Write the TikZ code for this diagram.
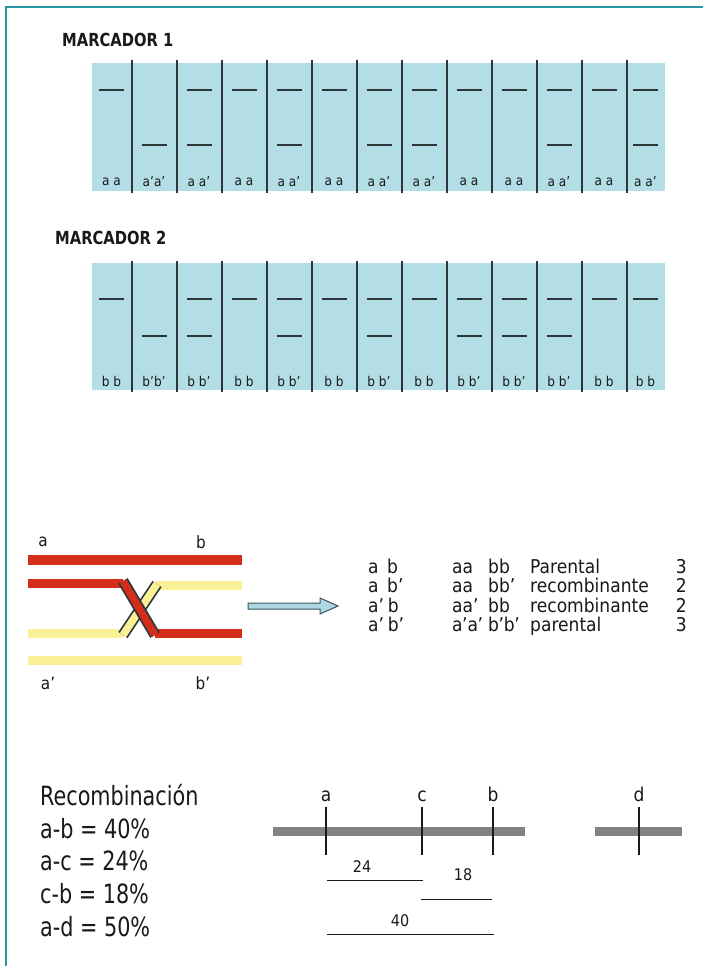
\documentclass[tikz,border=0pt]{standalone}
\usepackage{fontspec}
\setmainfont{DejaVu Sans Condensed}
\usetikzlibrary{calc}

\definecolor{frameteal}{RGB}{40,150,165}
\definecolor{gelblue}{RGB}{180,222,230}
\definecolor{geldark}{RGB}{45,55,58}
\definecolor{chrred}{RGB}{212,45,28}
\definecolor{chryellow}{RGB}{250,240,150}
\definecolor{arrowfill}{RGB}{175,215,225}
\definecolor{arrowline}{RGB}{60,85,95}
\definecolor{mapgray}{RGB}{130,130,130}
\definecolor{txt}{RGB}{25,25,25}

\tikzset{
  frame/.style={draw=frameteal, line width=2pt},
  gel/.style={fill=gelblue},
  divider/.style={draw=geldark, line width=1.6pt},
  band/.style={draw=geldark, line width=1.6pt},
  lanelabel/.style={font=\fontsize{13.5}{15}\selectfont, text=txt, inner sep=0pt},
  gtitle/.style={font=\bfseries\fontsize{18}{21}\selectfont, text=txt, inner sep=0pt, anchor=west},
  redbar/.style={draw=chrred, line width=9pt},
  yelbar/.style={draw=chryellow, line width=9pt},
  chrlabel/.style={font=\fontsize{17}{20}\selectfont, text=txt, inner sep=0pt},
  tbl/.style={font=\fontsize{19}{22}\selectfont, text=txt, inner sep=0pt, anchor=base west},
  tblnum/.style={font=\fontsize{19}{22}\selectfont, text=txt, inner sep=0pt, anchor=base east},
  recomb/.style={font=\fontsize{26.5}{30}\selectfont, text=txt, inner sep=0pt, anchor=base west},
  chrom/.style={draw=mapgray, line width=9pt},
  locus/.style={draw=txt, line width=1.2pt},
  locuslabel/.style={font=\fontsize{19}{22}\selectfont, text=txt, inner sep=0pt, anchor=base},
  dist/.style={draw=txt, line width=1pt},
  distlabel/.style={font=\fontsize{16}{19}\selectfont, text=txt, inner sep=0pt},
}
% narrower setting for the headings
\newcommand{\narrow}[2]{\scalebox{#1}[1]{#2}}

\begin{document}
\begin{tikzpicture}[x=1pt,y=-1pt]
\useasboundingbox (0,0) rectangle (703,966);
\fill[white] (0,0) rectangle (703,966);

% page frame (top and left edges)
\coordinate (fbl) at (6,966);
\coordinate (ftl) at (6,7);
\coordinate (ftr) at (703,7);
\draw[frame] (fbl) -- (ftl) -- (ftr);

% ---------- gel for marker 1 ----------
\node[gtitle] (t1) at (62,40) {\narrow{0.91}{MARCADOR 1}};
\fill[gel] (92,63) rectangle (665,191);
\foreach \x in {132,177,222,267,312,357,402,447,492,537,582,627}
  \draw[divider] (\x,60) -- (\x,193);
\foreach \l/\r/\lab/\up/\lo in {
  92/132/a a/1/0, 132/177/a'a'/0/1, 177/222/a a'/1/1, 222/267/a a/1/0,
  267/312/a a'/1/1, 312/357/a a/1/0, 357/402/a a'/1/1, 402/447/a a'/1/1,
  447/492/a a/1/0, 492/537/a a/1/0, 537/582/a a'/1/1, 582/627/a a/1/0,
  627/665/a a'/1/1}{
  \pgfmathsetmacro\c{(\l+\r)/2-0.5}
  \ifnum\up=1 \draw[band] (\c-12.5,90) -- (\c+12.5,90); \fi
  \ifnum\lo=1 \draw[band] (\c-12.5,145) -- (\c+12.5,145); \fi
  \node[lanelabel] at (\c,182) {\lab};
}

% ---------- gel for marker 2 ----------
\node[gtitle] (t2) at (55,238) {\narrow{0.91}{MARCADOR 2}};
\fill[gel] (92,263) rectangle (665,390);
\foreach \x in {132,177,222,267,312,357,402,447,492,537,582,627}
  \draw[divider] (\x,261) -- (\x,392);
\foreach \l/\r/\lab/\up/\lo in {
  92/132/b b/1/0, 132/177/b'b'/0/1, 177/222/b b'/1/1, 222/267/b b/1/0,
  267/312/b b'/1/1, 312/357/b b/1/0, 357/402/b b'/1/1, 402/447/b b/1/0,
  447/492/b b'/1/1, 492/537/b b'/1/1, 537/582/b b'/1/1, 582/627/b b/1/0,
  627/665/b b/1/0}{
  \pgfmathsetmacro\c{(\l+\r)/2-0.5}
  \ifnum\up=1 \draw[band] (\c-12.5,299) -- (\c+12.5,299); \fi
  \ifnum\lo=1 \draw[band] (\c-12.5,336) -- (\c+12.5,336); \fi
  \node[lanelabel] at (\c,381) {\lab};
}

% ---------- crossing-over between homologous chromatids ----------
\node[chrlabel] (la)  at (43,542) {a};
\node[chrlabel] (lb)  at (201,542) {b};
\node[chrlabel] (la2) at (48,683) {a'};
\node[chrlabel] (lb2) at (203,683) {b'};

\draw[redbar, line width=10pt] (28,560) -- (242,560);
\draw[redbar] (28,583) -- (123,583);
\draw[yelbar] (156,585) -- (242,585);
\draw[yelbar] (28,633) -- (123,633);
\draw[redbar] (155,633) -- (242,633);
\draw[yelbar] (28,660) -- (242,660);
% crossed strands, outlined
\draw[draw=geldark, line width=11pt] (123,635) -- (157,584);
\draw[draw=chryellow, line width=7.5pt] (123,635) -- (157,584);
\draw[draw=geldark, line width=11pt] (123,581) -- (155,635);
\draw[draw=chrred, line width=7.5pt] (123,581) -- (155,635);

% hollow arrow
\draw[fill=arrowfill, draw=arrowline, line width=1pt]
  (248,603) -- (320,603) -- (320,598) -- (338,606) -- (320,614)
  -- (320,609) -- (248,609) -- cycle;

% ---------- gamete classes ----------
\foreach \y/\g/\m/\n/\k/\c in {
  573/{a\hspace{0.45em}b}/aa/bb/Parental/3,
  592/{a\hspace{0.45em}b'}/aa/bb'/recombinante/2,
  612/{a'\hspace{0.2em}b}/aa'/bb/recombinante/2,
  631/{a'\hspace{0.2em}b'}/{a\kern-0.5pt'a\kern-0.5pt'}/{b\kern-0.5pt'b\kern-0.5pt'}/parental/3}{
  \node[tbl] at (368,\y) {\g};
  \node[tbl] at (452,\y) {\m};
  \node[tbl] at (488,\y) {\n};
  \node[tbl] at (530,\y) {\k};
  \node[tblnum] at (687,\y) {\c};
}

% ---------- recombination frequencies ----------
\node[recomb] (r0) at (40,805) {\narrow{0.87}{Recombinación}};
\node[recomb] (r1) at (40,838) {\narrow{0.87}{a-b = 40\%}};
\node[recomb] (r2) at (40,870) {\narrow{0.87}{a-c = 24\%}};
\node[recomb] (r3) at (40,903) {\narrow{0.87}{c-b = 18\%}};
\node[recomb] (r4) at (40,936) {\narrow{0.87}{a-d = 50\%}};

% ---------- genetic map ----------
\coordinate (m1s) at (273,831);
\coordinate (m1e) at (525,831);
\coordinate (m2s) at (595,831);
\coordinate (m2e) at (682,831);
\draw[chrom] (m1s) -- (m1e);
\draw[chrom] (m2s) -- (m2e);

\foreach \n/\x in {a/326, c/422, b/493, d/639}{
  \coordinate (\n top) at (\x,807);
  \coordinate (\n bot) at (\x,855);
  \draw[locus] (\n top) -- (\n bot);
  \node[locuslabel] (\n lab) at (\x,801) {\n};
}

\coordinate (d1s) at (327,880); \coordinate (d1e) at (423,880);
\coordinate (d2s) at (421,899); \coordinate (d2e) at (492,899);
\coordinate (d3s) at (327,934); \coordinate (d3e) at (494,934);
\draw[dist] (d1s) -- (d1e);
\draw[dist] (d2s) -- (d2e);
\draw[dist] (d3s) -- (d3e);
\node[distlabel] (n24) at (362,867) {24};
\node[distlabel] (n18) at (463,875) {18};
\node[distlabel] (n40) at (400,921) {40};

\end{tikzpicture}
\end{document}
